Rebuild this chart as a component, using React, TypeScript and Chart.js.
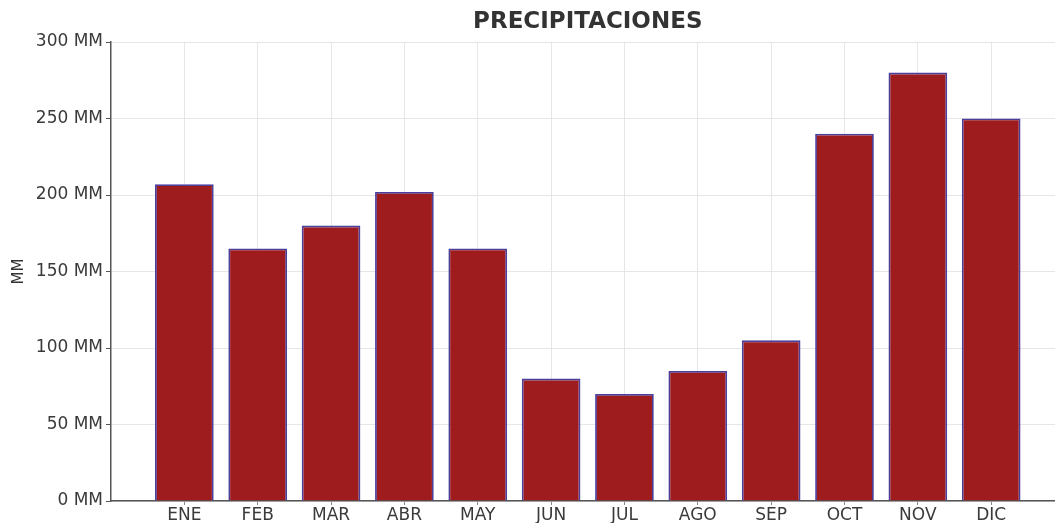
import React, { useEffect, useRef } from 'react';
import { Chart, registerables } from 'chart.js';

Chart.register(...registerables);

const categories = ['ENE', 'FEB', 'MAR', 'ABR', 'MAY', 'JUN', 'JUL', 'AGO', 'SEP', 'OCT', 'NOV', 'DIC'];
const precipitation = [207, 165, 180, 202, 165, 80, 70, 85, 105, 240, 280, 250];
const yTickValues = [0, 50, 100, 150, 200, 250, 300];
const titleText = 'PRECIPITACIONES';
const yAxisTitle = 'MM';
const unit = 'MM';

const FONT = "'DejaVu Sans', sans-serif";

const titlePlugin = {
  id: 'customTitle',
  afterDraw(chart: any) {
    const ctx = chart.ctx;
    const xs = chart.scales.x;
    ctx.save();
    ctx.font = `bold 23px ${FONT}`;
    ctx.fillStyle = '#333333';
    ctx.textAlign = 'center';
    ctx.textBaseline = 'middle';
    ctx.fillText(titleText, xs.getPixelForValue(5.5), 22);
    ctx.restore();
  },
};

export default function App() {
  const ref = useRef<HTMLCanvasElement>(null);

  useEffect(() => {
    if (!ref.current) return;
    const chart = new Chart(ref.current, {
      type: 'bar',
      data: {
        datasets: [
          {
            label: 'Precipitaciones',
            data: precipitation.map((v, i) => ({ x: i, y: v })),
            backgroundColor: '#9e1b1e',
            borderColor: '#4a3f9a',
            borderWidth: 1.8,
            barPercentage: 0.8,
            categoryPercentage: 1,
          },
        ],
      },
      plugins: [titlePlugin],
      options: {
        animation: false,
        responsive: true,
        maintainAspectRatio: false,
        layout: { padding: { top: 42, left: 0, right: 0, bottom: 0 } },
        plugins: {
          legend: { display: false },
          title: { display: false },
          tooltip: { enabled: false },
        },
        scales: {
          x: {
            type: 'linear',
            offset: false,
            min: -1,
            max: 11.87,
            afterBuildTicks: (scale: any) => {
              scale.ticks = categories.map((_, i) => ({ value: i }));
            },
            afterFit: (scale: any) => {
              scale.height = 22;
            },
            ticks: {
              autoSkip: false,
              maxRotation: 0,
              padding: 0,
              color: '#3a3a3a',
              font: { family: FONT, size: 17 },
              callback: (v: any) => categories[v] ?? '',
            },
            grid: {
              offset: false,
              color: '#e6e6e6',
              tickColor: '#888888',
              tickLength: 4,
              lineWidth: 1,
            },
            border: { display: true, color: '#555555', width: 1.5 },
          },
          y: {
            type: 'linear',
            min: 0,
            max: 300,
            afterBuildTicks: (scale: any) => {
              scale.ticks = yTickValues.map((v) => ({ value: v }));
            },
            afterFit: (scale: any) => {
              scale.width = 111;
            },
            ticks: {
              padding: 3,
              color: '#3a3a3a',
              font: { family: FONT, size: 17 },
              callback: (v: any) => `${v} ${unit}`,
            },
            grid: {
              color: '#e6e6e6',
              tickColor: '#555555',
              tickLength: 5,
              lineWidth: 1,
            },
            border: { display: true, color: '#555555', width: 1.5 },
            title: {
              display: true,
              text: yAxisTitle,
              color: '#333333',
              font: { family: FONT, size: 15 },
              padding: { top: 10, bottom: 0 },
            },
          },
        },
      },
    });
    return () => chart.destroy();
  }, []);

  return (
    <div style={{ position: 'fixed', left: 0, top: 0, width: 1055, height: 523, background: '#ffffff' }}>
      <canvas ref={ref} />
    </div>
  );
}
